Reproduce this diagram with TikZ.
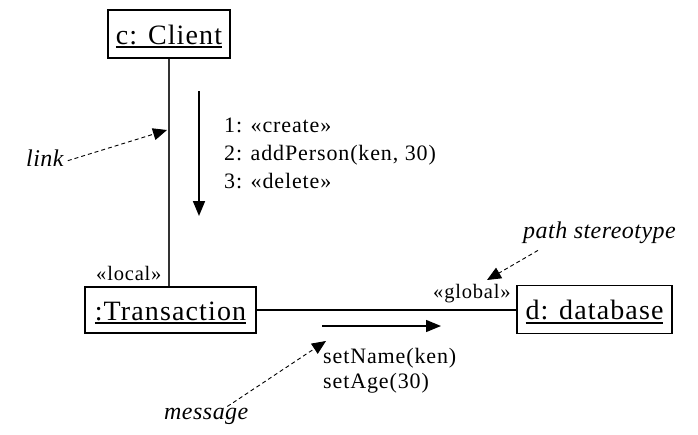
\documentclass[tikz,border=0pt]{standalone}
\usepackage{fontspec}
\usepackage{tikz}
\usetikzlibrary{arrows.meta}
\setmainfont{Liberation Serif}
\newfontfamily\objfont[LetterSpace=4]{Liberation Serif}
\newfontfamily\lblfont[LetterSpace=4]{Liberation Serif}
\newfontfamily\notefont[LetterSpace=2]{Liberation Serif}
\newcommand{\objname}[1]{\setbox0\hbox{#1}\rlap{\rule[-4pt]{\wd0}{2pt}}\box0}

\begin{document}
\begin{tikzpicture}[x=1pt,y=-1pt,
  objbox/.style={draw,line width=1.2pt,inner sep=0pt,text height=22pt,text depth=2pt,font=\objfont\fontsize{28}{30}\selectfont},
  msgtext/.style={anchor=base west,inner sep=0pt,font=\lblfont\fontsize{22}{26}\selectfont},
  stereo/.style={anchor=base west,inner sep=0pt,font=\lblfont\fontsize{20.5}{24}\selectfont},
  notetext/.style={anchor=base west,inner sep=0pt,font=\notefont\itshape\fontsize{24}{28}\selectfont},
  msgarrow/.style={line width=1.7pt,-{Triangle[length=15pt,width=12pt]}},
  notearrow/.style={line width=0.9pt,dash pattern=on 4pt off 3pt,-{Triangle[length=14pt,width=12pt]}}]
\path[use as bounding box] (0,0) rectangle (698,434);
\node[objbox,minimum width=122pt,minimum height=48pt] (client) at (169,34) {\objname{c: Client}};
\node[objbox,minimum width=171pt,minimum height=46pt] (trans) at (170.5,310) {\objname{:Transaction}};
\node[objbox,minimum width=155pt,minimum height=48pt] (db) at (594.5,309.5) {\objname{d: database}};
\draw[line width=1.2pt,black!80] (client.south) -- (client.south |- trans.north);
\draw[line width=1.8pt] (trans.east) -- (trans.east -| db.west);
\node[stereo] (local) at (96,280) {«local»};
\node[stereo] (global) at (433,298) {«global»};
\coordinate (m1top) at (199,91);
\coordinate (m1end) at (199,216);
\draw[msgarrow] (m1top) -- (m1end);
\node[msgtext] (m1) at (224,132) {1: «create»};
\node[msgtext] (m2) at (224,160) {2: addPerson(ken, 30)};
\node[msgtext] (m3) at (224,188) {3: «delete»};
\coordinate (m2start) at (322,326);
\coordinate (m2end) at (441,326);
\draw[msgarrow,line width=1.4pt] (m2start) -- (m2end);
\node[msgtext] (s1) at (323,363) {setName(ken)};
\node[msgtext] (s2) at (323,388) {setAge(30)};
\node[notetext] (linklbl) at (26,166) {link};
\coordinate (linkpt) at (167,130);
\draw[notearrow] ([xshift=4pt,yshift=-3pt]linklbl.east) -- (linkpt);
\node[notetext] (msglbl) at (164,419) {message};
\coordinate (msgpt) at (326,341);
\draw[notearrow] ([xshift=21pt,yshift=1pt]msglbl.north) -- (msgpt);
\node[notetext] (pathlbl) at (523,238) {path stereotype};
\coordinate (pathpt) at (487,280);
\draw[notearrow] ([xshift=15pt,yshift=-7pt]pathlbl.south west) -- (pathpt);
\end{tikzpicture}
\end{document}
